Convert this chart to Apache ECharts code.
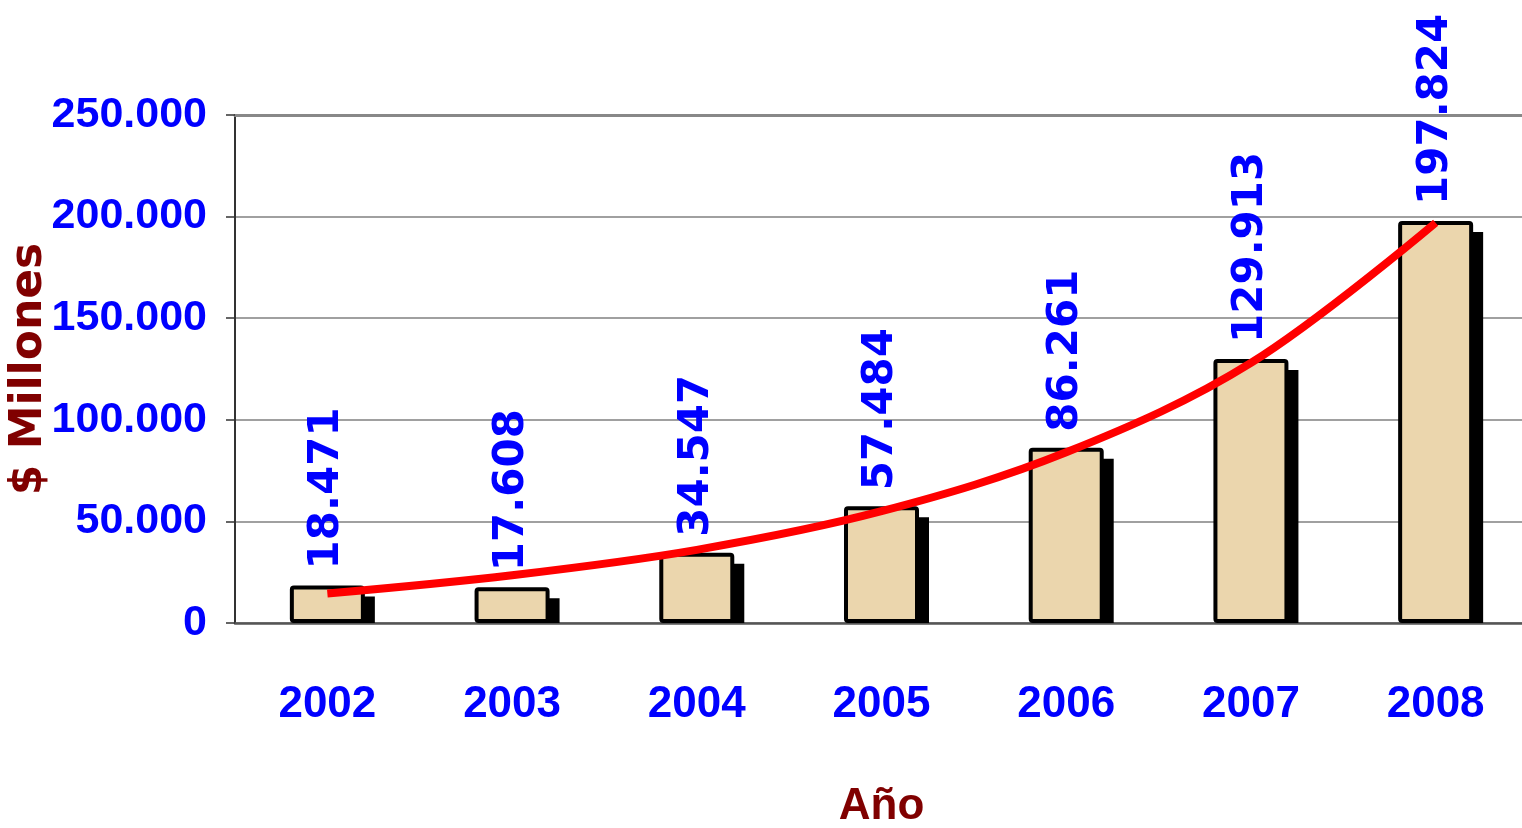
<!DOCTYPE html>
<html>
<head>
<meta charset="utf-8">
<script src="https://cdn.jsdelivr.net/npm/echarts@6/dist/echarts.min.js"></script>
<style>
  html, body { margin: 0; padding: 0; background: #fff; }
  #chart { width: 1522px; height: 828px; }
</style>
</head>
<body>
<div id="chart"></div>
<script>
// data
var years = ['2002', '2003', '2004', '2005', '2006', '2007', '2008']
var ventas = [18471, 17608, 34547, 57484, 86261, 129913, 197824]
var tendencia = [14500, 23500, 36000, 55000, 84000, 128000, 197000]
var yTicks = [0, 50000, 100000, 150000, 200000, 250000]

var narrow = "'Liberation Sans Narrow', 'Arial Narrow', 'Liberation Sans', Arial, sans-serif"
var wide = "'DejaVu Sans', sans-serif"
var barW = 75

// 12345 -> "12.345"
function miles (v) {
  return String(v).replace(/\B(?=(\d{3})+(?!\d))/g, '.')
}

var chart = echarts.init(document.getElementById('chart'))
chart.setOption({
  animation: false,
  grid: { left: 235, right: -6, top: 115, bottom: 205, containLabel: false, outerBoundsMode: 'none' },
  xAxis: [{
    type: 'category',
    data: years,
    name: 'Año',
    nameLocation: 'middle',
    nameGap: 162,
    nameTextStyle: { color: '#800000', fontFamily: narrow, fontWeight: 'bold', fontSize: 44 },
    axisLine: { lineStyle: { color: '#555', width: 2.5 } },
    axisTick: { length: 14, lineStyle: { color: '#444', width: 1.5 } },
    axisLabel: { color: '#0000ff', fontFamily: narrow, fontWeight: 'bold', fontSize: 44, margin: 60 }
  }, {
    type: 'category',
    data: years,
    position: 'top',
    axisLine: { lineStyle: { color: '#888', width: 3 } },
    axisTick: { show: false },
    axisLabel: { show: false }
  }],
  yAxis: {
    type: 'value',
    min: yTicks[0],
    max: yTicks[yTicks.length - 1],
    interval: yTicks[1] - yTicks[0],
    name: '$ Millones',
    nameLocation: 'middle',
    nameGap: 183,
    nameMoveOverlap: false,
    nameRotate: 90,
    nameTextStyle: { color: '#800000', fontFamily: wide, fontWeight: 'bold', fontSize: 44 },
    axisLine: { show: true, lineStyle: { color: '#333', width: 2 } },
    axisTick: { show: true, length: 9, lineStyle: { color: '#333', width: 1.5 } },
    splitLine: { lineStyle: { color: '#808080', width: 1.5 } },
    axisLabel: {
      color: '#0000ff', fontFamily: narrow, fontWeight: 'bold', fontSize: 43, margin: 28,
      formatter: miles
    }
  },
  series: [{
    // black block shadow behind each bar
    type: 'custom',
    z: 1,
    data: ventas.map(function (v, i) { return [i, v] }),
    renderItem: function (params, api) {
      var top = api.coord([api.value(0), api.value(1)])
      var base = api.coord([api.value(0), 0])
      return {
        type: 'rect',
        shape: { x: top[0] - barW / 2 + 10, y: top[1] + 11, width: barW, height: base[1] - top[1] - 11 },
        style: { fill: '#000' }
      }
    }
  }, {
    type: 'bar',
    z: 2,
    data: ventas,
    barWidth: barW,
    itemStyle: { color: '#ebd6ad', borderColor: '#000', borderWidth: 4, borderRadius: 2 },
    label: {
      show: true,
      position: 'top',
      distance: 22,
      rotate: 90,
      align: 'left',
      verticalAlign: 'middle',
      offset: [-6, 0],
      color: '#0000ff',
      fontFamily: wide,
      fontWeight: 'bold',
      fontSize: 42,
      formatter: function (p) { return miles(p.value) }
    }
  }, {
    type: 'line',
    z: 3,
    data: tendencia,
    smooth: 0.35,
    symbol: 'none',
    lineStyle: { color: '#ff0000', width: 8 }
  }]
})
</script>
</body>
</html>
